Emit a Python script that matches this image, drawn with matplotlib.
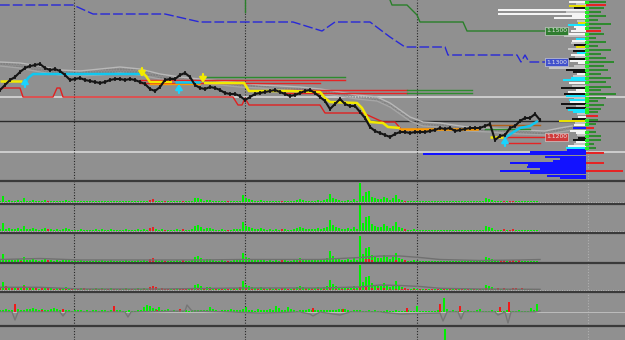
import numpy as np
import matplotlib
matplotlib.use('Agg')
import matplotlib.pyplot as plt
from matplotlib.lines import Line2D

BG = '#909090'
W, H = 625, 340

# ---------------- main chart data (levels measured from the top of the panel) ----------------
price_x = np.arange(0, 545, 5)
price_y = [90, 85, 80, 77, 72, 68, 66, 65, 64, 68, 70, 69, 71, 75, 80, 79, 78, 80, 81, 82,
           83, 82, 80, 79, 79, 80, 79, 80, 82, 84, 89, 91, 87, 80, 79, 79, 75, 73, 77, 85,
           88, 89, 87, 88, 90, 93, 94, 94, 96, 100, 97, 94, 93, 92, 91, 90, 92, 94, 96, 95,
           93, 91, 90, 93, 97, 101, 109, 104, 99, 104, 106, 106, 112, 118, 127, 131, 133, 135, 137, 134,
           132, 132, 133, 132, 132, 132, 131, 130, 128, 129, 128, 131, 130, 129, 128, 128, 128, 126, 124, 140,
           136, 135, 128, 126, 121, 118, 118, 114, 120]

cloud_x = [0, 20, 40, 60, 80, 100, 120, 140, 160, 180, 200, 220, 240, 260, 280, 300, 320, 340, 357, 377,
           390, 400, 410, 423, 440, 467, 490, 520, 545, 560, 572]
span_a = [62, 63, 66, 70, 71, 69, 67, 69, 74, 77, 79, 81, 83, 85, 86, 87, 89, 92, 95, 97,
          103, 110, 117, 122, 123, 127, 128, 130, 131, 128, 126]
span_b = [66, 68, 72, 75, 76, 75, 73, 75, 79, 81, 83, 85, 87, 88, 90, 91, 93, 96, 99, 101,
          107, 114, 121, 126, 127, 131, 132, 134, 135, 132, 130]

# trend line pieces
trend_down = [([0, 22], [81, 81]),
              ([142, 146, 150, 172], [72, 76, 82, 82]),
              ([204, 244, 249, 290, 320, 325, 330, 357, 362, 367, 370, 383, 388, 400],
               [83, 83, 91, 91, 92, 98, 102, 103, 108, 117, 122, 123, 127, 128]),
              ([490, 503], [137, 137])]
trend_up = [([25, 28, 33, 140], [84, 78, 74, 74]),
            ([175, 200], [82, 82]),
            ([505, 512, 520, 530, 538], [138, 133, 128, 126, 121])]
trend_flat_x = [400, 477]
trend_flat_y = [129, 129]

red_trail_x = [0, 3, 8, 20, 23, 53, 57, 60, 63, 233, 238, 242, 245, 249, 320, 325, 363, 383, 395, 400]
red_trail_y = [90, 88, 88, 88, 97, 97, 88, 88, 97, 97, 105, 105, 98, 105, 105, 113, 113, 122, 122, 128]

blue_x = [0, 73, 93, 165, 200, 293, 322, 335, 370, 390, 405, 445, 448, 517, 521, 525, 529, 545]
blue_y = [5, 5, 14, 14, 22, 22, 31, 22, 22, 37, 47, 47, 55, 55, 62, 55, 62, 62]
green_x = [390, 392, 407, 417, 420, 463, 467, 545]
green_y = [0, 5, 5, 15, 22, 22, 31, 31]
green_stub_x = [245, 245]
green_stub_y = [0, 12]

lvl_y = [77, 80, 83, 84, 90, 90, 93, 93, 125, 129, 137, 143]
lvl_x0 = [200, 140, 140, 150, 285, 407, 285, 407, 485, 485, 505, 505]
lvl_x1 = [345, 345, 320, 200, 407, 472, 407, 472, 540, 530, 545, 540]
lvl_c = ['g', 'r', 'r', 'o', 'r', 'g', 'r', 'g', 'n', 'g', 'r', 'r']

buy_x = [25, 179, 505]
buy_y = [78, 84, 137]
sell_x = [142, 203]
sell_y = [77, 83]

label_y = [31, 62, 137]
label_text = ['1.1500', '1.1300', '1.1200']
label_fc = ['#2f7d2f', '#4050cc', '#d03a3a']

full_lines_y = [97, 121, 152]
full_lines_c = ['#cdcdcd', '#2a2a2a', '#cdcdcd']

# volume profile (left side of the spine)
prof_y = [2, 6, 10, 14, 18, 23, 27, 31, 34, 39, 43, 47, 51, 55, 59, 63, 68, 72, 76, 80,
          83, 88, 92, 96, 100, 104, 108, 112, 117, 121, 125, 128, 133, 138, 142, 146]
prof_len = [17, 17, 88, 88, 32, 8, 12, 15, 38, 10, 15, 10, 13, 15, 18, 8, 37, 13, 13, 23,
            17, 25, 18, 20, 17, 25, 20, 13, 8, 27, 12, 13, 10, 8, 10, 18]
prof_col = "wywwwywwwcgykwkwgkgcwkwcckkcwywbwkww"
prof2_y = [4, 8, 12, 16, 21, 25, 29, 36, 41, 45, 49, 53, 57, 61, 66, 70, 74, 78, 86, 90,
           94, 98, 102, 106, 110, 114, 119, 123, 131, 135, 140, 144, 148]
prof2_len = [10, 12, 20, 14, 9, 18, 10, 22, 14, 12, 18, 9, 11, 16, 12, 20, 9, 15, 14, 10,
             22, 12, 16, 10, 18, 9, 14, 11, 16, 9, 13, 12, 20]
prof2_col = "gkgwgcwgwkgcgwgkwcgwkgwgcgkgwgkgc"
blue_prof_y = [150, 152, 154, 157, 159, 161, 163, 165, 167, 169, 171, 173, 176, 178]
blue_prof_len = [19, 56, 163, 41, 26, 33, 76, 58, 59, 46, 86, 56, 39, 26]
# right side of the spine
rg_y = [2, 8, 12, 16, 20, 24, 28, 34, 38, 42, 46, 50, 54, 58, 62, 66, 70, 74, 78, 82,
        87, 90, 94, 98, 101, 105, 109, 112, 120, 124, 132, 136, 140, 144, 148]
rg_len = [20, 18, 15, 20, 12, 25, 15, 18, 10, 20, 12, 25, 15, 20, 28, 18, 22, 15, 25, 20,
          25, 15, 30, 20, 12, 18, 15, 12, 12, 10, 10, 15, 15, 8, 10]
rr_y = [5, 31, 116, 128, 153, 163, 171]
rr_len = [20, 15, 12, 8, 18, 18, 37]

# ---------------- lower panels ----------------
vol_x = np.arange(0, 540, 3)
vol = [2, 8, 2, 3, 2, 2, 3, 2, 5, 2,
       2, 3, 2, 1, 2, 3, 2, 2, 1, 2,
       1, 2, 3, 2, 1, 1, 1, 2, 1, 1,
       1, 1, 2, 1, 2, 1, 1, 2, 1, 1,
       1, 1, 2, 1, 1, 1, 2, 1, 2, 1,
       3, 4, 2, 1, 2, 1, 1, 1, 1, 2,
       1, 2, 1, 1, 2, 5, 6, 4, 2, 3,
       3, 2, 1, 1, 2, 1, 1, 1, 2, 2,
       2, 9, 5, 4, 3, 2, 2, 3, 2, 1,
       2, 1, 2, 1, 2, 2, 1, 1, 2, 3,
       4, 3, 2, 2, 2, 2, 3, 2, 3, 4,
       11, 6, 4, 3, 2, 2, 3, 2, 4, 2,
       26, 8, 14, 15, 7, 5, 4, 4, 7, 5,
       3, 5, 9, 4, 3, 2, 1, 1, 2, 1,
       1, 1, 1, 1, 1, 1, 1, 1, 1, 1,
       1, 1, 1, 1, 1, 1, 1, 1, 1, 1,
       1, 1, 5, 4, 3, 1, 1, 1, 2, 1,
       1, 2, 1, 1, 1, 1, 1, 1, 1, 1]
vol_red_x = [48, 150, 153, 165, 183, 228, 282, 405, 504, 510, 513]

red3_x = [21, 150, 300, 366, 369, 372, 396, 501, 504, 513, 519]
red3_h = [1, 2, 1, 3, 3, 2, 2, 2, 2, 1, 2]
ma3_x = [0, 40, 80, 120, 160, 200, 240, 280, 320, 360, 380, 400, 420, 440, 480, 520, 540]
ma3_y = [2, 3, 1.5, 1.5, 1.5, 1.5, 2, 2, 2, 4, 5.5, 5.5, 4, 2, 1, 1.5, 2]

red4_x = np.arange(0, 540, 6)
red4 = [3, 4, 2, 3, 4, 3, 2, 3, 2, 1,
        2, 1, 1, 1, 2, 1, 1, 1, 1, 1,
        1, 1, 1, 1, 1, 2, 3, 2, 1, 1,
        1, 2, 1, 2, 2, 1, 1, 1, 1, 1,
        3, 2, 1, 1, 1, 1, 1, 1, 1, 1,
        1, 1, 1, 1, 1, 2, 1, 1, 1, 1,
        3, 4, 2, 2, 2, 1, 1, 1, 1, 1,
        1, 1, 1, 1, 1, 1, 1, 1, 1, 1,
        1, 2, 1, 2, 2, 1, 2, 2, 1, 1]
ma4_y = [2.7, 2.7, 1, 1, 1, 1.5, 2, 2, 2, 3, 5, 4.5, 3.5, 1.7, 1, 0.8, 0.7]

osc = [2, 2, 3, 2, 2, 2, 3, 2, 2, 3,
       3, 4, 3, 2, 3, 2, 2, 3, 4, 3,
       2, 2, 2, 2, 1, 2, 2, 2, 1, 2,
       1, 2, 2, 1, 2, 2, 1, 2, 1, 2,
       2, 1, 1, 2, 1, 1, 2, 2, 5, 7,
       6, 4, 3, 5, 2, 2, 3, 1, 2, 1,
       2, 1, 2, 1, 2, 2, 2, 2, 2, 2,
       5, 3, 2, 1, 2, 2, 2, 3, 2, 2,
       2, 3, 5, 2, 2, 1, 3, 2, 2, 2,
       3, 2, 6, 4, 2, 2, 5, 3, 2, 1,
       2, 2, 2, 3, 2, 2, 2, 2, 2, 2,
       2, 2, 2, 3, 3, 3, 2, 1, 2, 2,
       2, 1, 1, 2, 1, 2, 1, 1, 1, 2,
       1, 1, 2, 1, 1, 1, 2, 1, 1, 6,
       1, 1, 1, 1, 1, 1, 2, 1, 14, 3,
       1, 2, 1, 1, 1, 1, 2, 1, 1, 2,
       3, 1, 1, 1, 2, 1, 1, 1, 1, 2,
       1, 1, 1, 2, 1, 1, 1, 4, 2, 8]
osc_red_x = [15, 42, 63, 114, 157, 180, 313, 343, 407, 440, 460, 500, 509]
osc_red_h = [8, 2, 3, 6, 2, 3, 4, 3, 4, 8, 6, 5, 10]
osc_line_x = [0, 12, 15, 18, 60, 63, 66, 125, 128, 131, 185, 187, 192, 230, 260, 300, 310, 313, 320,
              340, 350, 380, 390, 400, 440, 443, 447, 458, 461, 464, 495, 498, 505, 508, 511, 535, 540]
osc_line_y = [0, 0, -8, 0, 0, -4, 0, 0, -5, 0, 1, 7, 1, 0, -1, 0, -2, -4, 0,
              -3, 0, 0, -1, -2, -1, -9, 0, 0, -7, 0, 0, -3, 0, -11, 0, 0, 1]
last_bar_x = [445]
last_bar_h = [11]

period_sep_x = [74, 245, 417]
spine_x = 586

# ---------------- drawing ----------------
COL = {'g': '#2e8b2e', 'r': '#e52424', 'o': '#ff9a00', 'n': '#b0601a'}
prof_colors = {'w': '#f4f4f4', 'y': '#e8e000', 'c': '#19e3ff', 'k': '#151515',
               'g': '#c4c4c4', 'b': '#1a1aff'}

fig = plt.figure(figsize=(W / 100, H / 100), dpi=100, facecolor=BG)


def make_axes(top, bottom, ylim):
    ax = fig.add_axes([0, 1 - bottom / H, 1, (bottom - top) / H])
    ax.set_facecolor(BG)
    ax.set_xlim(0, W)
    ax.set_ylim(*ylim)
    ax.set_axis_off()
    return ax


ax = make_axes(0, 181, (181, 0))

for yv, c in zip(full_lines_y, full_lines_c):
    ax.axhline(yv, color=c, lw=1.4 if c != '#2a2a2a' else 1.0, zorder=1)
for xv in period_sep_x:
    ax.axvline(xv, color='#262626', lw=0.8, ls=(0, (1, 1.5)), zorder=1)
ax.plot([spine_x + 2, spine_x + 2], [150, 181], color='#b0b0b0', lw=0.8, ls=(0, (1, 1.5)), zorder=1)

# cloud
ax.fill_between(cloud_x, span_a, span_b, facecolor='none', edgecolor='#7c7c7c',
                hatch='......', lw=0, zorder=2)
ax.plot(cloud_x, span_a, color='#b9b9b9', lw=1, zorder=2)
ax.plot(cloud_x, span_b, color='#a6a6a6', lw=1, zorder=2)

# level lines
for yv, a, b, c in zip(lvl_y, lvl_x0, lvl_x1, lvl_c):
    ax.plot([a, b], [yv, yv], color=COL[c], lw=1, zorder=3)

ax.plot(blue_x, blue_y, color='#2828d8', lw=1, dashes=(7, 2.2), zorder=3)
ax.plot(green_x, green_y, color='#2a7f2a', lw=1, zorder=3)
ax.plot(green_stub_x, green_stub_y, color='#2a7f2a', lw=1, zorder=3)
ax.plot(red_trail_x, red_trail_y, color='#e02020', lw=1, zorder=3)

# trend line
for xs, ys in trend_down:
    ax.plot(xs, ys, color='#f2ea00', lw=1.8, zorder=4, solid_capstyle='butt')
for xs, ys in trend_up:
    ax.plot(xs, ys, color='#10c8f0', lw=1.8, zorder=4, solid_capstyle='butt')
ax.plot(trend_flat_x, trend_flat_y, color='#ff9a00', lw=1.8, zorder=4)

# price
ax.plot(price_x, price_y, color='#151515', lw=1.5, zorder=5)
ax.plot(price_x, price_y, ls='none', marker='|', ms=3.5, mew=1.2, color='#151515', zorder=5)

# arrows
arrow_style = '-|>,head_length=0.3,head_width=0.2'
for xv, yv in zip(buy_x, buy_y):
    ax.annotate('', xy=(xv, yv), xytext=(xv, yv + 9),
                arrowprops=dict(arrowstyle=arrow_style, color='#19d4ff', lw=1.6,
                                shrinkA=0, shrinkB=0), zorder=6)
for xv, yv in zip(sell_x, sell_y):
    ax.annotate('', xy=(xv, yv), xytext=(xv, yv - 9),
                arrowprops=dict(arrowstyle=arrow_style, color='#f2ea00', lw=1.6,
                                shrinkA=0, shrinkB=0), zorder=6)

# labels
for yv, t, fc in zip(label_y, label_text, label_fc):
    ax.text(546, yv, t, fontsize=4.3, color='#e8e8e8', va='center', ha='left', zorder=7,
            bbox=dict(boxstyle='square,pad=0.2', fc=fc, ec='#e0e0e0', lw=0.4))

# volume profile
prof_len = np.array(prof_len)
ax.barh(prof_y, prof_len, left=spine_x - prof_len, height=2,
        color=[prof_colors[c] for c in prof_col], zorder=6)
prof2_len = np.array(prof2_len)
ax.barh(prof2_y, prof2_len, left=spine_x - prof2_len, height=1.5,
        color=[prof_colors[c] for c in prof2_col], zorder=6)
blue_prof_len = np.array(blue_prof_len)
ax.barh(blue_prof_y, blue_prof_len, left=spine_x - blue_prof_len, height=1.8,
        color='#1212ff', zorder=6)
ax.barh(rg_y, rg_len, left=spine_x, height=2, color='#2f8a2f', zorder=6)
ax.barh(rg_y, [4] * len(rg_y), left=spine_x - 1, height=3, color='#22ee22', zorder=7)
ax.barh(rr_y, rr_len, left=spine_x, height=1.6, color='#e52424', zorder=6)

# ---------------- lower panels ----------------
vol = np.array(vol)
vol_colors = ['#e52424' if x in vol_red_x else '#00f000' for x in vol_x]
panels = [(181, 204, (-2, 21), 0.75), (204, 233, (-2, 27), 1.0),
          (233, 263, (-1.5, 28.5), 1.0), (263, 292, (-2, 27), 0.95)]
pax = []
for i, (top, bot, yl, sc) in enumerate(panels):
    a = make_axes(top, bot, yl)
    a.bar(vol_x, vol * sc, width=1.3, color=vol_colors, zorder=3)
    a.axhline(0, color='#c8c8c8', lw=0.7, ls=(0, (1, 1.5)), zorder=2)
    pax.append(a)

pax[2].bar(red3_x, red3_h, width=1.6, color='#e52424', zorder=4)
pax[2].plot(ma3_x, ma3_y, color='#707070', lw=1, zorder=4)
pax[3].bar(red4_x, red4, width=2.5, color='#e52424', zorder=4)
pax[3].plot(ma3_x, ma4_y, color='#707070', lw=1, zorder=4)

a5 = make_axes(292, 326, (-14, 20))
a5.bar(vol_x, osc, width=1.3, color='#00f000', zorder=3)
a5.bar(osc_red_x, osc_red_h, width=2.2, color='#f01a1a', zorder=4)
a5.plot(osc_line_x, osc_line_y, color='#767676', lw=1, zorder=4)
a5.axhline(0, color='#bdbdbd', lw=0.7, zorder=2)

a6 = make_axes(326, 340, (0, 14))
a6.bar(last_bar_x, last_bar_h, width=1.3, color='#00f000', zorder=3)

for a in pax + [a5, a6]:
    for xv in period_sep_x:
        a.axvline(xv, color='#262626', lw=0.8, ls=(0, (1, 1.5)), zorder=1)
    a.axvline(spine_x + 2, color='#b0b0b0', lw=0.8, ls=(0, (1, 1.5)), zorder=1)

for yv in [181, 204, 233, 263, 292, 326]:
    fig.add_artist(Line2D([0, 1], [1 - yv / H] * 2, transform=fig.transFigure,
                          color='#3a3a3a', lw=1.6))

fig.savefig('out.png', dpi=100, facecolor=BG)
